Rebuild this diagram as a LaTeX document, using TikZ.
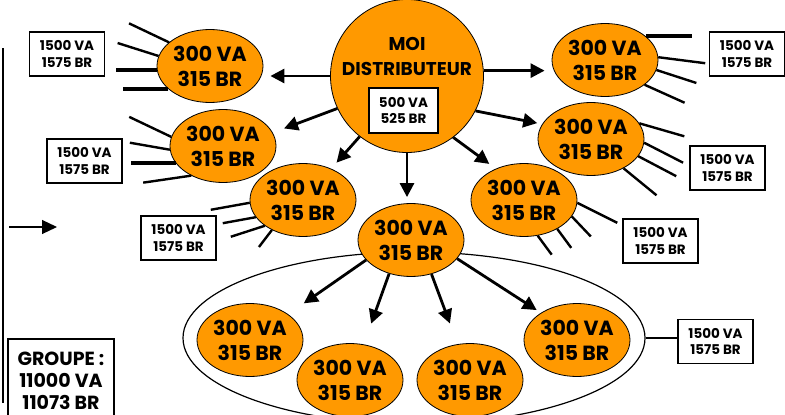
\documentclass[tikz,border=0pt]{standalone}
\usepackage{fontspec}
\setmainfont{Poppins}
\usetikzlibrary{shapes.geometric,arrows.meta,calc}
\definecolor{org}{RGB}{255,153,0}
\tikzset{
 ell/.style={ellipse, draw, line width=0.8pt, fill=org, minimum width=106pt, minimum height=73pt, inner sep=0pt, align=center, font=\bfseries\fontsize{20.5}{25}\selectfont},
 vbox/.style={draw, line width=1.3pt, fill=white, minimum width=75pt, minimum height=44pt, inner sep=0pt, align=center, font=\bfseries\fontsize{13.5}{16.5}\selectfont},
 arr/.style={line width=2.8pt, -{Triangle[length=14pt,width=14pt]}},
 ray/.style={line width=2.4pt},
 thickray/.style={line width=4pt},
}
\begin{document}
\begin{tikzpicture}[x=1pt,y=-1pt]
\useasboundingbox (0,0) rectangle (785,415);
\clip (0,0) rectangle (785,415);
% group ellipse
\node[ellipse, draw, line width=1.2pt, minimum width=462pt, minimum height=172pt, inner sep=0pt] (grp) at (414,338) {};
% central circle
\node[circle, draw, line width=0.8pt, fill=org, minimum size=153pt, inner sep=0pt] (moi) at (407,76) {};
\node[align=center, font=\bfseries\fontsize{18.5}{25}\selectfont] (moit) at (407,56) {MOI\\DISTRIBUTEUR};
\node[vbox, minimum width=69pt, minimum height=45pt] (mb) at (403.5,110.5) {500 VA\\525 BR};
% ellipses
\node[ell] (e1) at (210,66) {300 VA\\315 BR};
\node[ell] (e2) at (605,60) {300 VA\\315 BR};
\node[ell] (e3) at (223,146) {300 VA\\315 BR};
\node[ell] (e4) at (591,139) {300 VA\\315 BR};
\node[ell] (e5) at (303,200) {300 VA\\315 BR};
\node[ell] (e6) at (411,240) {300 VA\\315 BR};
\node[ell] (e7) at (524,200) {300 VA\\315 BR};
\node[ell] (b1) at (250,340) {300 VA\\315 BR};
\node[ell] (b2) at (350,380) {300 VA\\315 BR};
\node[ell] (b3) at (470,380) {300 VA\\315 BR};
\node[ell] (b4) at (577,340) {300 VA\\315 BR};
% boxes
\node[vbox] (bx1) at (67,54) {1500 VA\\1575 BR};
\node[vbox] (bx2) at (747,54) {1500 VA\\1575 BR};
\node[vbox] (bx3) at (84.5,161) {1500 VA\\1575 BR};
\node[vbox] (bx4) at (178.5,238) {1500 VA\\1575 BR};
\node[vbox] (bx5) at (727.5,168) {1500 VA\\1575 BR};
\node[vbox] (bx6) at (660.5,241) {1500 VA\\1575 BR};
\node[vbox] (bx7) at (715.5,341.5) {1500 VA\\1575 BR};
\node[draw, line width=1.6pt, minimum width=106pt, minimum height=84pt, inner sep=0pt, anchor=north, align=center, font=\bfseries\fontsize{19}{22}\selectfont] (gbox) at (61,338) {GROUPE :\\11000 VA\\11073 BR};
% left line and small arrow
\coordinate (l1) at (3,48);
\coordinate (l2) at (3,403);
\draw[line width=1.3pt] (l1) -- (l2);
\coordinate (sa) at (9,227);
\coordinate (sb) at (57,227);
\draw[line width=1.2pt, -{Triangle[length=15pt,width=14pt]}] (sa) -- (sb);
% link group ellipse to box
\draw[line width=1.3pt] (grp.east) -- (grp.east -| bx7.west);
% arrows from distributor
\draw[arr, shorten >=7pt] (moi.west) -- (moi.west -| e1.east);
\draw[arr, shorten >=7pt] (moi.4) -- (moi.4 -| e2.west);
\draw[arr, shorten >=12pt] (moi.205) -- (e3.15);
\draw[arr, shorten >=5pt] (moi.333) -- (e4.163);
\draw[arr, shorten >=8pt] (moi.232) -- (e5.48);
\draw[arr, shorten >=6pt] (moi.south) -- (moi.south |- e6.north);
\draw[arr, shorten >=8pt] (moi.307) -- (e7.132);
% arrows to group
\draw[arr, shorten >=19pt] (e6.204) -- (b1.34);
\draw[arr, shorten >=22pt] (e6.237) -- (b2.69);
\draw[arr, shorten >=22pt] (e6.301) -- (b3.109);
\draw[arr, shorten >=5pt] (e6.338) -- (b4.143);
% rays
\draw[ray] (e1.150) -- ++(-40,-19);
\draw[ray] (e1.169) -- ++(-41,-13);
\draw[thickray] (e1.184) -- ++(-41,0);
\draw[thickray] (e1.209) -- ++(-45,0);
\draw[thickray] (e2.30) -- ++(46,0);
\draw[ray] (e2.3) -- ++(47,6);
\draw[ray] (e2.349) -- ++(40,13);
\draw[ray] (e2.328) -- ++(40,18);
\draw[ray] (e3.170) -- ++(-42,-20);
\draw[ray] (e3.184) -- ++(-40,-7);
\draw[thickray] (e3.200) -- ++(-45,0);
\draw[ray] (e3.223) -- ++(-48,7);
\draw[ray] (e5.183) -- ++(-39,7);
\draw[ray] (e5.200) -- ++(-33,6);
\draw[ray] (e5.214) -- ++(-34,11);
\draw[ray] (e5.224) -- ++(-13,17);
\draw[ray] (e4.18) -- ++(45,13);
\draw[ray] (e4.356) -- ++(39,20);
\draw[ray] (e4.340) -- ++(38,20);
\draw[ray] (e4.318) -- ++(33,27);
\draw[ray] (e7.357) -- ++(40,20);
\draw[ray] (e7.341) -- ++(19,20);
\draw[ray] (e7.319) -- ++(14,19);
\draw[ray] (e7.291) -- ++(14,19);
\end{tikzpicture}
\end{document}
